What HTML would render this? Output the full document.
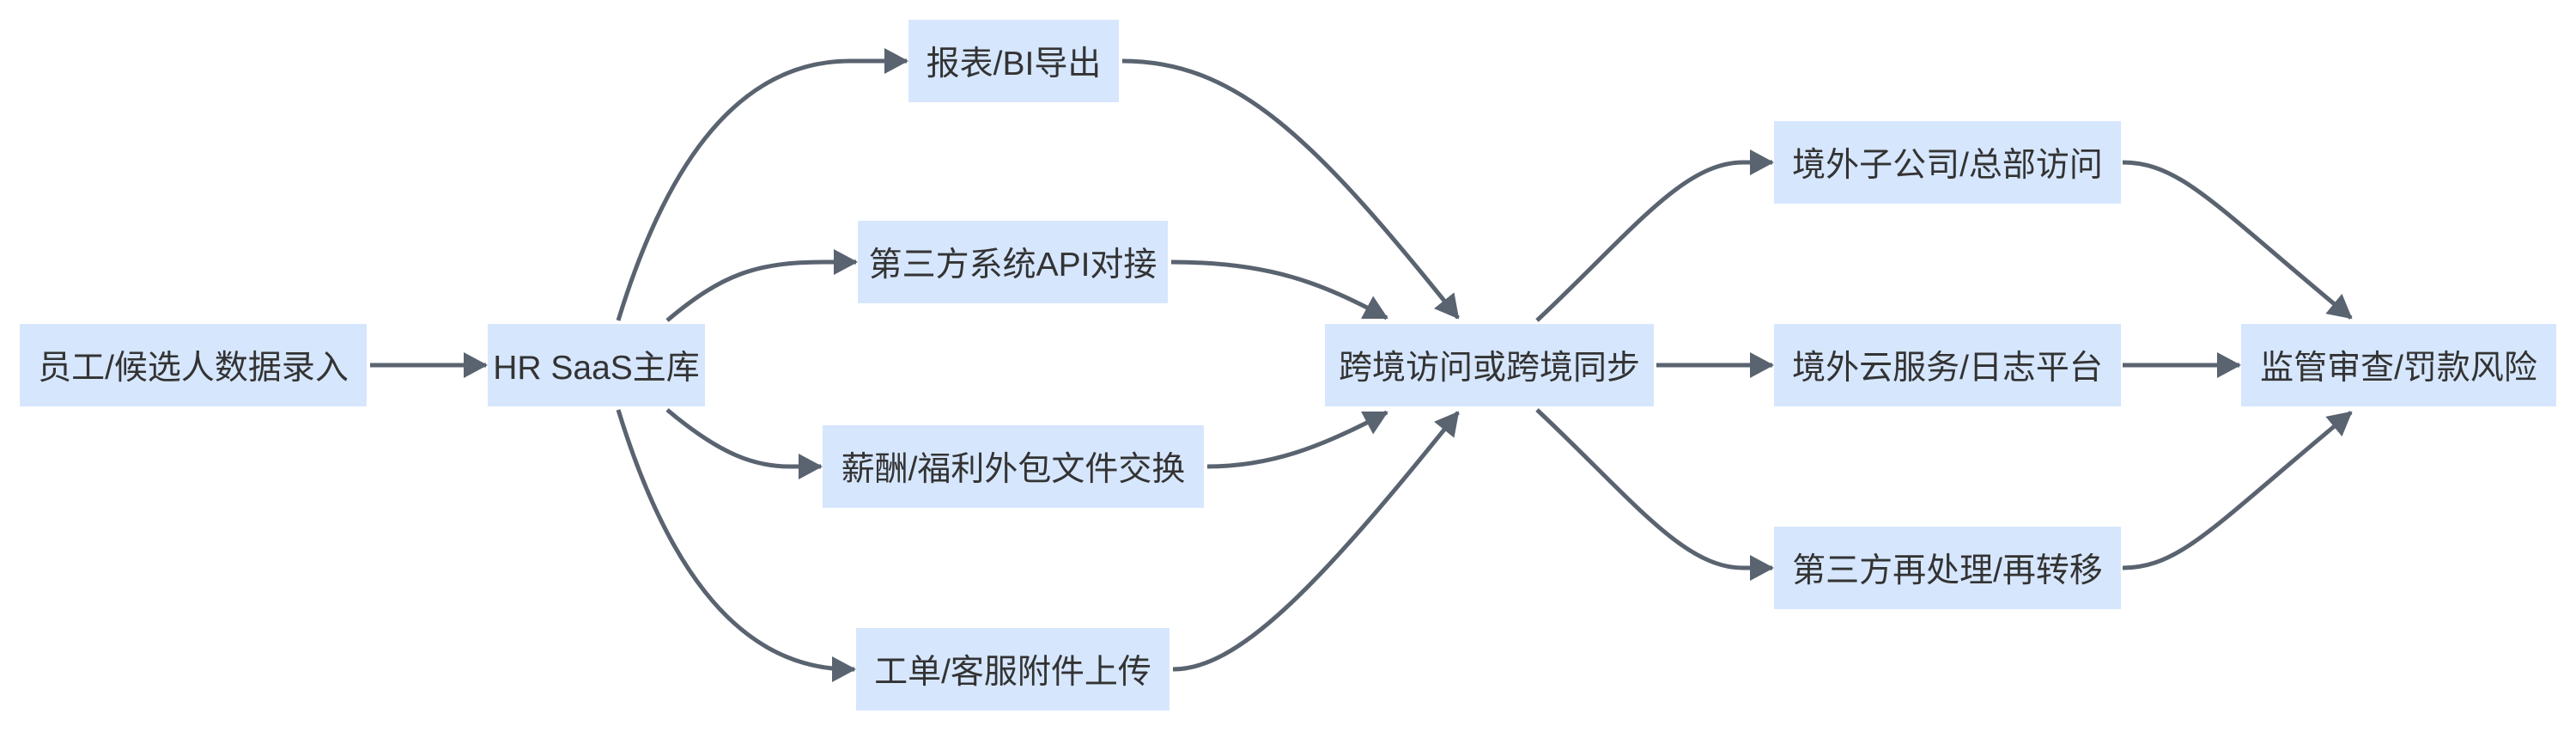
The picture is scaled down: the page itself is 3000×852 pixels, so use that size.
<!DOCTYPE html>
<html><head><meta charset="utf-8"><style>
html,body{margin:0;padding:0;background:#fff;}
body{width:3000px;height:852px;position:relative;overflow:hidden;font-family:"Liberation Sans","Noto Sans CJK SC",sans-serif;}
.n{position:absolute;background:#d6e6fd;color:#333;font-size:39px;display:flex;align-items:center;justify-content:center;height:96px;white-space:nowrap;}
svg{position:absolute;left:0;top:0;}
</style></head><body>
<svg width="3000" height="852" viewBox="0 0 3000 852">
<defs><marker id="a" markerUnits="userSpaceOnUse" markerWidth="30" markerHeight="30" refX="26" refY="15" orient="auto"><path d="M0,0 L28,15 L0,30 Z" fill="#5a6370"/></marker></defs>
<g fill="none" stroke="#5a6370" stroke-width="5" marker-end="url(#a)">
<path d="M431,425 L566,425"/>
<path d="M720,373 C770,210 850,71 990,71 L1056,71"/>
<path d="M777,373 C840,320 880,305 960,305 L997,305"/>
<path d="M777,477 C840,530 880,543 920,543 L956,543"/>
<path d="M720,477 C770,640 850,779 990,779 L995,779"/>
<path d="M1307,71 C1440,71 1530,160 1698,370"/>
<path d="M1364,305 C1480,305 1540,330 1615,370"/>
<path d="M1406,543 C1480,543 1540,520 1615,480"/>
<path d="M1366,779 C1440,779 1530,690 1698,480"/>
<path d="M1790,373 C1900,270 1960,189 2030,189 L2064,189"/>
<path d="M1929,425 L2064,425"/>
<path d="M1790,477 C1900,580 1960,661 2030,661 L2064,661"/>
<path d="M2472,189 C2540,189 2580,240 2738,370"/>
<path d="M2472,425 L2608,425"/>
<path d="M2472,661 C2540,661 2580,610 2738,480"/>
</g>
</svg>
<div class="n" style="left:23px;top:377px;width:404px">员工/候选人数据录入</div>
<div class="n" style="left:568px;top:377px;width:253px">HR SaaS主库</div>
<div class="n" style="left:1058px;top:23px;width:245px">报表/BI导出</div>
<div class="n" style="left:999px;top:257px;width:361px">第三方系统API对接</div>
<div class="n" style="left:958px;top:495px;width:444px">薪酬/福利外包文件交换</div>
<div class="n" style="left:997px;top:731px;width:365px">工单/客服附件上传</div>
<div class="n" style="left:1543px;top:377px;width:383px">跨境访问或跨境同步</div>
<div class="n" style="left:2066px;top:141px;width:404px">境外子公司/总部访问</div>
<div class="n" style="left:2066px;top:377px;width:404px">境外云服务/日志平台</div>
<div class="n" style="left:2066px;top:613px;width:404px">第三方再处理/再转移</div>
<div class="n" style="left:2610px;top:377px;width:367px">监管审查/罚款风险</div>
</body></html>
